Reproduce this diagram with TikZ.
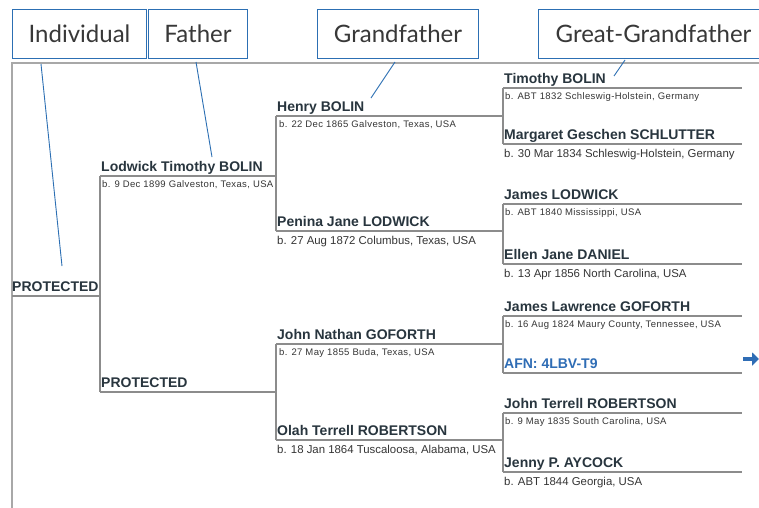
\documentclass[tikz,border=0pt]{standalone}
\usepackage{fontspec}
\setmainfont{Liberation Sans}
\newfontfamily\labelfont{Lato}
\newfontfamily\smallbirth{Liberation Sans}[LetterSpace=4]
\usetikzlibrary{arrows.meta}
\definecolor{treegray}{HTML}{8C8C8C}
\definecolor{framegray}{HTML}{A8A8A8}
\definecolor{pointblue}{HTML}{2C6FB3}
\definecolor{afnblue}{HTML}{2F6DB5}
\definecolor{nametext}{HTML}{28353E}
\definecolor{birthtext}{HTML}{353535}
\definecolor{labeltext}{HTML}{383838}
\tikzset{
  labelbox/.style={draw=pointblue, line width=1pt, anchor=north west,
    minimum height=49pt, inner sep=0pt, text=labeltext,
    font=\labelfont\fontsize{24}{28}\selectfont},
  pointer/.style={draw=pointblue, line width=0.9pt},
  treeline/.style={draw=treegray, line width=1.3pt},
  framebox/.style={draw=framegray, line width=1.2pt},
  personname/.style={anchor=base west, inner sep=0pt, text=nametext,
    font=\bfseries\fontsize{14}{16}\selectfont},
  afnname/.style={personname, text=afnblue},
  birthin/.style={anchor=base west, inner sep=0pt, text=birthtext,
    font=\smallbirth\fontsize{9.5}{11}\selectfont},
  birthout/.style={anchor=base west, inner sep=0pt, text=birthtext,
    font=\fontsize{11.4}{13}\selectfont},
}
\begin{document}
\begin{tikzpicture}[x=1pt, y=-1pt]
\useasboundingbox (0,0) rectangle (759,507);
\clip (0,0) rectangle (759,507);
\fill[white] (0,0) rectangle (759,507);

% outer frame of the chart
\coordinate (frame-tl) at (12,63);
\coordinate (frame-tr) at (762,63);
\coordinate (frame-bl) at (12,510);
\draw[framebox] (frame-tr) -- (frame-tl) -- (frame-bl);

% generation headings
\node[labelbox, minimum width=134pt] (lbl-ind) at (12,9) {Individual};
\node[labelbox, minimum width=99pt] (lbl-fa) at (148,9) {Father};
\node[labelbox, minimum width=161pt] (lbl-gf) at (317,9) {Grandfather};
\node[labelbox, minimum width=230pt] (lbl-ggf) at (538,9) {Great-Grandfather};

% ---- generation 1
\coordinate (p1-l) at (12,296);
\coordinate (p1-r) at (100,296);
\node[personname] (p1) at (12,291) {PROTECTED};

% ---- generation 2
\coordinate (p2-l) at (100,176);
\coordinate (p2-r) at (276,176);
\node[personname] (p2) at (101,171) {Lodwick Timothy BOLIN};
\node[birthin] (p2-b) at (102,187) {b. 9 Dec 1899 Galveston, Texas, USA};

\coordinate (p3-l) at (100,392);
\coordinate (p3-r) at (276,392);
\node[personname] (p3) at (101,387) {PROTECTED};

% ---- generation 3
\coordinate (p4-l) at (276,116);
\coordinate (p4-r) at (503,116);
\node[personname] (p4) at (277,111) {Henry BOLIN};
\node[birthin] (p4-b) at (279,127) {b. 22 Dec 1865 Galveston, Texas, USA};

\coordinate (p5-l) at (276,231);
\coordinate (p5-r) at (503,231);
\node[personname] (p5) at (277,226) {Penina Jane LODWICK};
\node[birthout] (p5-b) at (277,244) {b. 27 Aug 1872 Columbus, Texas, USA};

\coordinate (p6-l) at (276,344);
\coordinate (p6-r) at (503,344);
\node[personname] (p6) at (277,339) {John Nathan GOFORTH};
\node[birthin] (p6-b) at (279,355) {b. 27 May 1855 Buda, Texas, USA};

\coordinate (p7-l) at (276,440);
\coordinate (p7-r) at (503,440);
\node[personname] (p7) at (277,435) {Olah Terrell ROBERTSON};
\node[birthout] (p7-b) at (277,453) {b. 18 Jan 1864 Tuscaloosa, Alabama, USA};

% ---- generation 4
\coordinate (p8-l) at (503,88);
\coordinate (p8-r) at (742,88);
\node[personname] (p8) at (504,83) {Timothy BOLIN};
\node[birthin] (p8-b) at (505,99) {b. ABT 1832 Schleswig-Holstein, Germany};

\coordinate (p9-l) at (503,144);
\coordinate (p9-r) at (742,144);
\node[personname] (p9) at (504,139) {Margaret Geschen SCHLUTTER};
\node[birthout] (p9-b) at (504,157) {b. 30 Mar 1834 Schleswig-Holstein, Germany};

\coordinate (p10-l) at (503,204);
\coordinate (p10-r) at (742,204);
\node[personname] (p10) at (504,199) {James LODWICK};
\node[birthin] (p10-b) at (505,215) {b. ABT 1840 Mississippi, USA};

\coordinate (p11-l) at (503,264);
\coordinate (p11-r) at (742,264);
\node[personname] (p11) at (504,259) {Ellen Jane DANIEL};
\node[birthout] (p11-b) at (504,277) {b. 13 Apr 1856 North Carolina, USA};

\coordinate (p12-l) at (503,316);
\coordinate (p12-r) at (742,316);
\node[personname] (p12) at (504,311) {James Lawrence GOFORTH};
\node[birthin] (p12-b) at (505,327) {b. 16 Aug 1824 Maury County, Tennessee, USA};

\coordinate (p13-l) at (503,373);
\coordinate (p13-r) at (742,373);
\node[afnname] (p13) at (504,368) {AFN: 4LBV-T9};

\coordinate (p14-l) at (503,413);
\coordinate (p14-r) at (742,413);
\node[personname] (p14) at (504,408) {John Terrell ROBERTSON};
\node[birthin] (p14-b) at (505,424) {b. 9 May 1835 South Carolina, USA};

\coordinate (p15-l) at (503,472);
\coordinate (p15-r) at (742,472);
\node[personname] (p15) at (504,467) {Jenny P. AYCOCK};
\node[birthout] (p15-b) at (504,485) {b. ABT 1844 Georgia, USA};

% horizontal rules under each name
\foreach \p in {p1,p2,p3,p4,p5,p6,p7,p8,p9,p10,p11,p12,p13,p14,p15}
  \draw[treeline] (\p-l) -- (\p-r);

% parent brackets
\draw[treeline] (p2-l) -- (p3-l);
\draw[treeline] (p4-l) -- (p5-l);
\draw[treeline] (p6-l) -- (p7-l);
\draw[treeline] (p8-l) -- (p9-l);
\draw[treeline] (p10-l) -- (p11-l);
\draw[treeline] (p12-l) -- (p13-l);
\draw[treeline] (p14-l) -- (p15-l);

% heading pointers
\coordinate (ptr-ind-a) at (41,64);
\coordinate (ptr-ind-b) at (62,266);
\coordinate (ptr-fa-a) at (196,62);
\coordinate (ptr-fa-b) at (212,157);
\coordinate (ptr-gf-a) at (395,62);
\coordinate (ptr-gf-b) at (371,98);
\coordinate (ptr-ggf-a) at (625,60);
\coordinate (ptr-ggf-b) at (614,76);
\draw[pointer] (ptr-ind-a) -- (ptr-ind-b);
\draw[pointer] (ptr-fa-a) -- (ptr-fa-b);
\draw[pointer] (ptr-gf-a) -- (ptr-gf-b);
\draw[pointer] (ptr-ggf-a) -- (ptr-ggf-b);

% continuation arrow
\coordinate (more-a) at (743,359);
\coordinate (more-b) at (759,359);
\draw[draw=afnblue, line width=3.4pt, -{Triangle[length=7pt,width=13pt]}] (more-a) -- (more-b);
\end{tikzpicture}
\end{document}
